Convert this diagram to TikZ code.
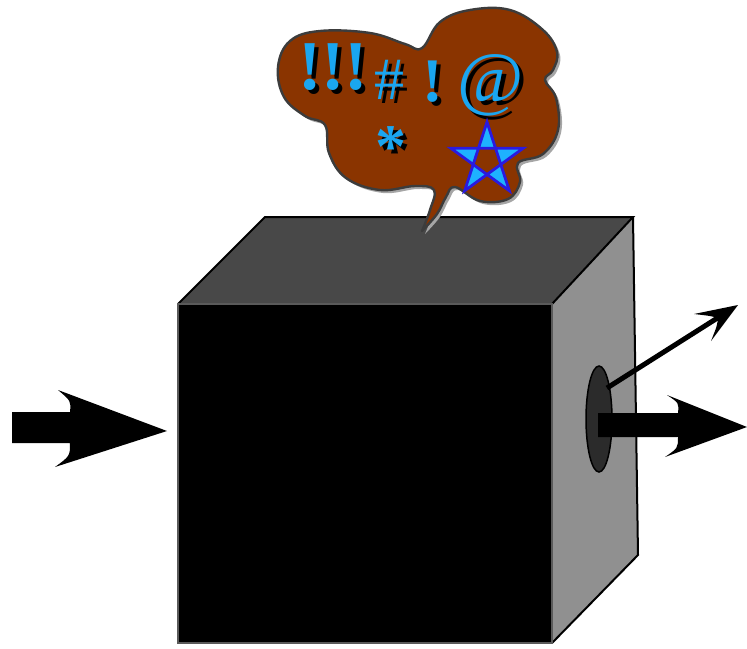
\documentclass[tikz,border=0pt]{standalone}
\usepackage{fontspec}
\setmainfont{Liberation Serif}
\usetikzlibrary{shapes.geometric,calc}
\begin{document}
\begin{tikzpicture}[x=1pt,y=-1pt,
  edgeline/.style={line width=2pt,line join=miter},
  bubble/.style={fill=bubblebrown,draw=bubbleedge,line width=2.4pt,line join=round},
  glyph/.style={inner sep=0pt,text=glyphblue},
  glyphshadow/.style={inner sep=0pt,text=black},
  bigarrow/.style={fill=black,draw=none}]
\definecolor{topgray}{HTML}{484848}
\definecolor{sidegray}{HTML}{909090}
\definecolor{frontedge}{HTML}{5A5A5A}
\definecolor{holegray}{HTML}{2B2B2B}
\definecolor{bubblebrown}{HTML}{8A3400}
\definecolor{bubbleedge}{HTML}{3C3C3C}
\definecolor{glyphblue}{HTML}{1AA6F0}
\definecolor{starfill}{HTML}{1EB2FF}
\definecolor{staredge}{HTML}{2A1ADF}
\useasboundingbox (0,0) rectangle (747,648);

% box corners
\coordinate (ftl) at (178,304);
\coordinate (ftr) at (552,304);
\coordinate (fbr) at (552,643);
\coordinate (fbl) at (178,643);
\coordinate (btl) at (265,217);
\coordinate (btr) at (633,217);
\coordinate (bbr) at (638,555);

% faces of the box
\fill[topgray] (ftl) -- (btl) -- (btr) -- (ftr) -- cycle;
\fill[sidegray] (ftr) -- (btr) -- (bbr) -- (fbr) -- cycle;
\draw[edgeline] (ftl) -- (btl) -- (btr) -- (ftr);
\draw[edgeline] (btr) -- (bbr) -- (fbr);
\fill[black] (ftl) rectangle (fbr);
\draw[frontedge,line width=2pt] (ftl) rectangle (fbr);

% opening on the side face
\node[ellipse,draw=black,fill=holegray,line width=1.5pt,minimum width=26pt,minimum height=106pt,inner sep=0pt] (hole) at (599,419) {};

% speech bubble: shadow, then the bubble itself
\path[fill=black!35,shift={(3,3)}] plot[smooth,tension=0.65] coordinates {
  (422,231) (437,214) (446,197) (455,187) (480,201) (508,199) (520,182)
  (518,163) (543,154) (558,130) (556,98) (545,80) (553,70) (557,52)
  (543,30) (510,10) (470,10) (440,22) (422,48) (405,44) (370,33)
  (320,31) (290,41) (278,67) (284,97) (305,116) (325,125) (329,153)
  (346,178) (380,190) (415,186) (434,190) (430,210) (422,231)} -- cycle;
\path[bubble] plot[smooth,tension=0.65] coordinates {
  (422,231) (437,214) (446,197) (455,187) (480,201) (508,199) (520,182)
  (518,163) (543,154) (558,130) (556,98) (545,80) (553,70) (557,52)
  (543,30) (510,10) (470,10) (440,22) (422,48) (405,44) (370,33)
  (320,31) (290,41) (278,67) (284,97) (305,116) (325,125) (329,153)
  (346,178) (380,190) (415,186) (434,190) (430,210) (422,231)} -- cycle;

% symbols in the bubble, each with a black shadow
\begin{scope}[font=\fontsize{70}{70}\bfseries\selectfont]
  \node[glyphshadow] at (337,71) {!!!};
  \node[glyph] (bang3) at (333,67) {!!!};
\end{scope}
\begin{scope}[font=\fontsize{60}{60}\selectfont]
  \node[glyphshadow] at (393,84) {\#};
  \node[glyph] (hash) at (389,80) {\#};
\end{scope}
\begin{scope}[font=\fontsize{62}{62}\bfseries\selectfont]
  \node[glyphshadow] at (437,86) {!};
  \node[glyph] (bang) at (433,82) {!};
\end{scope}
\begin{scope}[font=\fontsize{72}{72}\selectfont]
  \node[glyphshadow] at (495,89) {@};
  \node[glyph] (at) at (491,85) {@};
\end{scope}
\begin{scope}[font=\fontsize{62}{62}\bfseries\selectfont]
  \node[glyphshadow] at (395,151) {*};
  \node[glyph] (ast) at (391,147) {*};
\end{scope}

% pentagram (y axis points down, so -90 is up)
\coordinate (starc) at (487,160);
\path[fill=starfill,draw=staredge,line width=2.8pt,line join=miter,even odd rule]
  ($(starc)+(-90:38)$) -- ($(starc)+(54:38)$) -- ($(starc)+(198:38)$)
  -- ($(starc)+(-18:38)$) -- ($(starc)+(126:38)$) -- cycle;

% incoming arrow on the left
\fill[bigarrow] (12,412) -- (70,412) .. controls (71,401) .. (58,390)
  -- (167,431) -- (55,467) .. controls (70,456) .. (70,443) -- (12,443) -- cycle;

% outgoing thick arrow
\coordinate (outtip) at (747,427);
\fill[bigarrow] (598,413) -- (678,413) .. controls (679,403) .. (667,395)
  -- (outtip) -- (665,457) .. controls (678,448) .. (678,437) -- (598,437) -- cycle;

% outgoing thin arrow
\coordinate (thinstart) at (607,388);
\coordinate (thinnotch) at (719,317);
\draw[line width=5pt] (thinstart) -- (thinnotch);
\fill[black] (738,305) -- (694,314) .. controls (711,316) .. (718,318)
  .. controls (717,326) .. (711,341) -- cycle;
\end{tikzpicture}
\end{document}
